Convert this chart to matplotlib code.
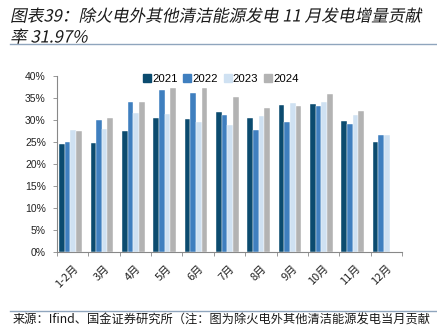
"""Monthly contribution of non-thermal clean power to generation growth, 2021-2024."""

import matplotlib
matplotlib.use("Agg")
import matplotlib.pyplot as plt
import numpy as np
from matplotlib.lines import Line2D
from matplotlib.patheffects import AbstractPathEffect
from matplotlib.transforms import Affine2D

plt.rcParams["font.family"] = ["Liberation Sans", "Noto Sans CJK SC", "DejaVu Sans"]

MONTHS = ["1-2月", "3月", "4月", "5月", "6月", "7月", "8月", "9月", "10月", "11月", "12月"]
YEARS = ["2021", "2022", "2023", "2024"]
SHARE_2021 = [24.5, 24.8, 27.5, 30.5, 30.3, 31.8, 30.4, 33.4, 33.7, 29.8, 25.1]
SHARE_2022 = [25.0, 30.0, 34.2, 36.9, 36.2, 31.1, 27.7, 29.5, 33.1, 29.1, 26.6]
SHARE_2023 = [27.8, 28.0, 31.7, 31.4, 29.6, 28.9, 30.8, 33.8, 34.2, 31.2, 26.6]
SHARE_2024 = [27.5, 30.4, 34.1, 37.2, 37.3, 35.2, 32.7, 33.2, 35.9, 31.97, np.nan]
YTICKS = [0, 5, 10, 15, 20, 25, 30, 35, 40]

COLORS = ["#0b4b6f", "#3f7fbf", "#cfe1f2", "#b3b3b3"]


class Oblique(AbstractPathEffect):
    """Lean glyph outlines to fake an italic face for CJK fonts."""

    def __init__(self, angle=12):
        super().__init__()
        self._skew = Affine2D().skew_deg(angle, 0)

    def draw_path(self, renderer, gc, tpath, affine, rgbFace=None):
        renderer.draw_path(gc, tpath, self._skew + affine, rgbFace)


fig = plt.figure(figsize=(4.37, 3.28), dpi=100)
ax = fig.add_axes([57 / 437, 1 - 252 / 328, 345 / 437, 176 / 328])

x = np.arange(len(MONTHS))
width = 0.18
series = [SHARE_2021, SHARE_2022, SHARE_2023, SHARE_2024]
for i, (vals, color, label) in enumerate(zip(series, COLORS, YEARS)):
    ax.bar(x + (i - 1.5) * width - 0.07, vals, width, color=color, label=label,
           edgecolor="white", linewidth=0.3)

ax.set_xlim(-0.5, len(MONTHS) - 0.5)
ax.set_ylim(0, 40)
ax.set_yticks(YTICKS)
ax.set_yticklabels([f"{v}%" for v in YTICKS], fontsize=7.5, color="#222222")
ax.tick_params(axis="y", length=3, width=0.6, color="#888888", pad=5)

ax.set_xticks(x)
ax.set_xticklabels(MONTHS, rotation=45, ha="right", rotation_mode="anchor",
                   fontsize=8, color="#222222", family=["Noto Sans CJK SC", "DejaVu Sans"])
ax.set_xticks(np.arange(len(MONTHS) + 1) - 0.5, minor=True)
ax.tick_params(axis="x", which="major", length=0, pad=8)
ax.tick_params(axis="x", which="minor", length=3, width=0.6, color="#888888")

for side in ("top", "right"):
    ax.spines[side].set_visible(False)
for side in ("left", "bottom"):
    ax.spines[side].set_color("#888888")
    ax.spines[side].set_linewidth(0.8)

handles = [Line2D([], [], marker="s", linestyle="none", markersize=6,
                  markerfacecolor=c, markeredgecolor=c) for c in COLORS]
ax.legend(handles, YEARS, loc="upper center", bbox_to_anchor=(0.475, 1.035), ncol=4,
          frameon=False, fontsize=8.2, handlelength=0.7, handletextpad=0.1,
          columnspacing=0.5, borderaxespad=0)

title_font = ["Noto Sans CJK SC", "DejaVu Sans"]
fig.text(10 / 437, 1 - 17 / 328, "图表39：除火电外其他清洁能源发电 11 月发电增量贡献",
         fontsize=12, color="#1a1a1a", va="center", ha="left", family=title_font,
         path_effects=[Oblique()])
fig.text(10 / 437, 1 - 38 / 328, "率 31.97%",
         fontsize=12, color="#1a1a1a", va="center", ha="left", family=title_font,
         path_effects=[Oblique()])
fig.add_artist(Line2D([10 / 437, 1], [1 - 44 / 328] * 2, color="#8fa5bd", linewidth=1))

fig.add_artist(Line2D([10 / 437, 1], [1 - 311 / 328] * 2, color="#8fa5bd", linewidth=1))
fig.text(13 / 437, 1 - 320 / 328, "来源：Ifind、国金证券研究所（注：图为除火电外其他清洁能源发电当月贡献",
         fontsize=8.8, color="#1a1a1a", va="center", ha="left", family=title_font)

fig.savefig("out.png", dpi=100)
